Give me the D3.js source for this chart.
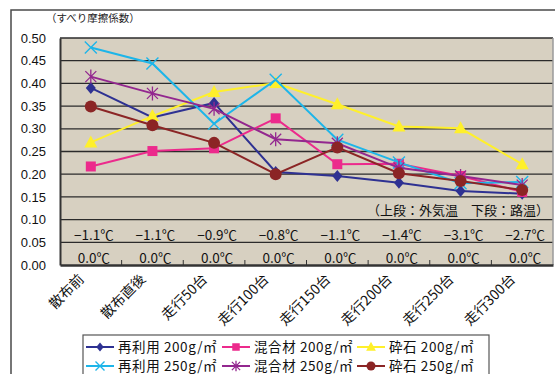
<!DOCTYPE html>
<html>
<head>
<meta charset="utf-8">
<script src="https://cdn.jsdelivr.net/npm/d3@7/dist/d3.min.js"></script>
<style>
  html, body { margin: 0; padding: 0; background: #fff; }
  svg { display: block; }
</style>
</head>
<body>
<svg id="chart" width="555" height="374"></svg>
<script>
// Stages of the road test (x categories)
const categories = ["散布前", "散布直後", "走行50台", "走行100台", "走行150台", "走行200台", "走行250台", "走行300台"];

// Friction coefficient per series
const recycled200 = [0.390, 0.325, 0.357, 0.205, 0.196, 0.181, 0.163, 0.157];
const mixed200    = [0.217, 0.251, 0.257, 0.323, 0.222, 0.223, 0.196, 0.161];
const crushed200  = [0.270, 0.328, 0.381, 0.401, 0.354, 0.305, 0.301, 0.222];
const recycled250 = [0.479, 0.444, 0.311, 0.408, 0.276, 0.226, 0.180, 0.183];
const mixed250    = [0.415, 0.378, 0.344, 0.277, 0.268, 0.214, 0.196, 0.176];
const crushed250  = [0.349, 0.308, 0.269, 0.200, 0.259, 0.202, 0.185, 0.165];

// Temperatures under each stage
const airTemps  = ["−1.1℃", "−1.1℃", "−0.9℃", "−0.8℃", "−1.1℃", "−1.4℃", "−3.1℃", "−2.7℃"];
const roadTemps = ["0.0℃", "0.0℃", "0.0℃", "0.0℃", "0.0℃", "0.0℃", "0.0℃", "0.0℃"];

const yTicks = [0, 0.05, 0.10, 0.15, 0.20, 0.25, 0.30, 0.35, 0.40, 0.45, 0.50];

const series = [
  { name: "再利用 200g/㎡", values: recycled200, color: "#2e3192", marker: "diamond" },
  { name: "混合材 200g/㎡", values: mixed200,    color: "#ec2a8c", marker: "square" },
  { name: "砕石 200g/㎡",   values: crushed200,  color: "#fff02a", marker: "triangle" },
  { name: "再利用 250g/㎡", values: recycled250, color: "#1db5e9", marker: "x" },
  { name: "混合材 250g/㎡", values: mixed250,    color: "#93278f", marker: "asterisk" },
  { name: "砕石 250g/㎡",   values: crushed250,  color: "#8b2525", marker: "circle" }
];

const JP = "'Noto Sans CJK JP', 'Noto Sans', sans-serif";
const LAT = "'Liberation Sans', Arial, sans-serif";

const svg = d3.select("#chart");

// Outer frame
svg.append("rect")
  .attr("x", 11).attr("y", 10).attr("width", 600).attr("height", 400)
  .attr("fill", "none").attr("stroke", "#4a4a4a").attr("stroke-width", 1.5);

const plot = { left: 60, right: 553, top: 38, bottom: 265 };

const x = d3.scaleBand().domain(categories).range([plot.left, plot.right]).padding(0);
const y = d3.scaleLinear().domain([0, 0.5]).range([plot.bottom, plot.top]);
const cx = d => x(d) + x.bandwidth() / 2;

// Plot background
svg.append("rect")
  .attr("x", plot.left).attr("y", plot.top)
  .attr("width", plot.right - plot.left).attr("height", plot.bottom - plot.top)
  .attr("fill", "#d7d0c1");

// Horizontal gridlines
svg.append("g").selectAll("line").data(yTicks.filter(t => t > 0))
  .join("line")
  .attr("x1", plot.left).attr("x2", plot.right)
  .attr("y1", d => y(d)).attr("y2", d => y(d))
  .attr("stroke", "#2b2b2b").attr("stroke-width", 1.3);

// Right border of plot
svg.append("line")
  .attr("x1", plot.right).attr("x2", plot.right)
  .attr("y1", plot.top).attr("y2", plot.bottom)
  .attr("stroke", "#9a9a9a").attr("stroke-width", 1.5);

// Y axis
const yAxis = svg.append("g")
  .attr("transform", `translate(${plot.left},0)`)
  .call(d3.axisLeft(y).tickValues(yTicks).tickFormat(d3.format(".2f")).tickSize(0).tickPadding(14));
yAxis.select(".domain").attr("stroke", "#333").attr("stroke-width", 2);
yAxis.selectAll("text").attr("font-family", LAT).attr("font-size", 13).attr("fill", "#111");

// X axis with ticks between categories, pointing into the plot
const xAxis = svg.append("g")
  .attr("transform", `translate(0,${plot.bottom})`)
  .call(d3.axisBottom(x).tickSize(0).tickFormat(""));
xAxis.select(".domain").attr("stroke", "#333").attr("stroke-width", 2.5);
xAxis.selectAll(".tick").remove();
svg.append("g").selectAll("line").data(categories.slice(1))
  .join("line")
  .attr("x1", d => x(d)).attr("x2", d => x(d))
  .attr("y1", plot.bottom - 5).attr("y2", plot.bottom)
  .attr("stroke", "#333").attr("stroke-width", 1);

// Rotated category labels
svg.append("g").selectAll("text").data(categories)
  .join("text")
  .attr("transform", d => `translate(${cx(d) - 6},${plot.bottom + 15}) rotate(-45)`)
  .attr("text-anchor", "end")
  .attr("font-family", JP).attr("font-size", 14).attr("fill", "#111")
  .text(d => d);

// Temperature rows
svg.append("g").selectAll("text").data(airTemps)
  .join("text")
  .attr("x", (d, i) => cx(categories[i]) + 3).attr("y", 240)
  .attr("text-anchor", "middle")
  .attr("font-family", JP).attr("font-size", 13.5).attr("fill", "#111")
  .text(d => d);
svg.append("g").selectAll("text").data(roadTemps)
  .join("text")
  .attr("x", (d, i) => cx(categories[i]) + 3).attr("y", 262.5)
  .attr("text-anchor", "middle")
  .attr("font-family", JP).attr("font-size", 13.5).attr("fill", "#111")
  .text(d => d);

svg.append("text")
  .attr("x", 549).attr("y", 215)
  .attr("text-anchor", "end")
  .attr("font-family", JP).attr("font-size", 13).attr("fill", "#111")
  .text("（上段：外気温　下段：路温）");

// Y axis title
svg.append("text")
  .attr("x", 46).attr("y", 22)
  .attr("font-family", JP).attr("font-size", 10.5).attr("fill", "#222")
  .text("（すべり摩擦係数）");

// Marker drawing
function drawMarker(g, type, color, size) {
  const s = size || 1;
  switch (type) {
    case "diamond":
      g.append("path").attr("d", `M0,${-6*s}L${5*s},0L0,${6*s}L${-5*s},0Z`).attr("fill", color);
      break;
    case "square":
      g.append("rect").attr("x", -5*s).attr("y", -5*s).attr("width", 10*s).attr("height", 10*s).attr("fill", color);
      break;
    case "triangle":
      g.append("path").attr("d", `M0,${-7*s}L${6.5*s},${5*s}L${-6.5*s},${5*s}Z`).attr("fill", color);
      break;
    case "circle":
      g.append("circle").attr("r", 6*s).attr("fill", color);
      break;
    case "x":
      g.append("path").attr("d", `M${-6*s},${-6*s}L${6*s},${6*s}M${6*s},${-6*s}L${-6*s},${6*s}`)
        .attr("stroke", color).attr("stroke-width", 1.4).attr("fill", "none");
      break;
    case "asterisk":
      g.append("path").attr("d",
        `M${-5.5*s},${-5.5*s}L${5.5*s},${5.5*s}M${5.5*s},${-5.5*s}L${-5.5*s},${5.5*s}M0,${-7*s}L0,${7*s}`)
        .attr("stroke", color).attr("stroke-width", 1.3).attr("fill", "none");
      break;
  }
}

// Series lines and markers
const line = d3.line().x((d, i) => cx(categories[i])).y(d => y(d));
series.forEach(s => {
  const g = svg.append("g");
  g.append("path").datum(s.values)
    .attr("d", line).attr("fill", "none")
    .attr("stroke", s.color).attr("stroke-width", 2);
  s.values.forEach((v, i) => {
    const m = g.append("g").attr("transform", `translate(${cx(categories[i])},${y(v)})`);
    drawMarker(m, s.marker, s.color);
  });
});

// Legend
const legend = svg.append("g");
legend.append("rect")
  .attr("x", 83).attr("y", 335).attr("width", 406).attr("height", 60)
  .attr("fill", "#fff").attr("stroke", "#555").attr("stroke-width", 1.2);
const colX = [86, 222, 357];
const rowY = [347, 366];
series.forEach((s, i) => {
  const cxL = colX[i % 3], cyL = rowY[Math.floor(i / 3)];
  const g = legend.append("g");
  g.append("line").attr("x1", cxL).attr("x2", cxL + 28).attr("y1", cyL).attr("y2", cyL)
    .attr("stroke", s.color).attr("stroke-width", 2);
  drawMarker(g.append("g").attr("transform", `translate(${cxL + 14},${cyL})`), s.marker, s.color, 0.75);
  g.append("text").attr("x", cxL + 32).attr("y", cyL + 5)
    .attr("font-family", JP).attr("font-size", 13.5).attr("letter-spacing", 0.6).attr("fill", "#111")
    .text(s.name);
});
</script>
</body>
</html>
